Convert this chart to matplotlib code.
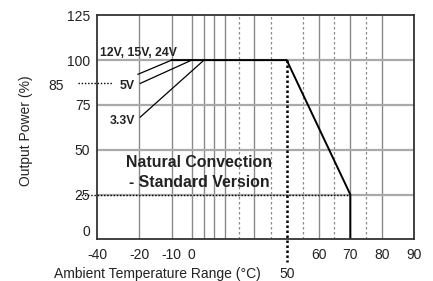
import numpy as np
import matplotlib
matplotlib.use("Agg")
import matplotlib.pyplot as plt
from matplotlib import font_manager as fm

# ---------------- data ----------------
# derating curve (temperature °C, output power %)
curve_temp = [-10, 50, 70, 70]
curve_power = [100, 100, 25, 0]

# voltage groups: label, start temperature of full power, leader start (temp, power)
group_labels = ["12V, 15V, 24V", "5V", "3.3V"]
group_start_temp = [-10, 0, 10]
group_leader_temp = [-20.6, -19.7, -19.7]
group_leader_power = [92.1, 87.0, 68.2]
group_label_temp = [-20.4, -25.6, -28.0]
group_label_power = [103.8, 85.4, 66.2]

x_ticks = [-40, -20, -10, 0, 60, 70, 80, 90]
y_ticks = [0, 25, 50, 75, 100, 125]
solid_grid_temp = [-20, -10, 0, 10, 20, 30, 40, 60, 70, 80]
dotted_grid_temp = [35, 45, 55, 65, 75]
h_grid_power = [25, 50, 75, 100]

derate_knee_temp = 50
derate_end_temp = 70
derate_end_power = 25
ref_power_5v = 87
ref_label_5v = "85"

# irregular x axis of the original drawing (temperature -> drawing position)
T_KNOTS = [-60, -40, -20, -10, 0, 10, 20, 30, 35, 40, 45, 50, 55, 60, 65, 70, 75, 80, 90, 110]
P_KNOTS = [55.3, 97.3, 139.3, 171.7, 191.7, 204, 214.3, 224.7, 239.3, 254.3, 270.7,
           286.7, 302.7, 318.7, 334.3, 350.3, 366.3, 382.3, 414.3, 478.3]


def fwd(t):
    return np.interp(t, T_KNOTS, P_KNOTS)


def inv(p):
    return np.interp(p, P_KNOTS, T_KNOTS)


# ---------------- fonts ----------------
names = {f.name for f in fm.fontManager.ttflist}
REG = ["Liberation Sans", "DejaVu Sans"]
if "Liberation Sans Narrow" in names:
    BOLD = ["Liberation Sans Narrow", "DejaVu Sans"]
    bold_size = 13.5
    small_bold = 10.5
else:
    BOLD = ["Liberation Sans", "DejaVu Sans"]
    bold_size = 11.4
    small_bold = 8.8

TXT = "#222222"

W, H = 433, 281
fig = plt.figure(figsize=(W / 100, H / 100), dpi=100)
ax = fig.add_axes([97.3 / W, 1 - 239.3 / H, (414.3 - 97.3) / W, (239.3 - 15.3) / H])
ax.set_xscale("function", functions=(fwd, inv))
ax.set_xlim(-40, 90)
ax.set_ylim(0, 125)

# grid
for t in solid_grid_temp:
    ax.axvline(t, color="#8a8a8a", lw=1.0, zorder=1)
for t in dotted_grid_temp:
    ax.axvline(t, color="#8a8a8a", lw=0.9, ls=(0, (2, 2)), zorder=1)
for p in h_grid_power:
    ax.axhline(p, color="#aaaaaa", lw=1.6, zorder=1)

# reference dotted lines
ax.plot([-49, derate_end_temp], [derate_end_power, derate_end_power], color="black",
        lw=1.0, ls=(0, (1, 1.3)), clip_on=False, zorder=3)
ax.plot([-49, -33], [ref_power_5v, ref_power_5v], color="black",
        lw=1.0, ls=(0, (1, 1.3)), clip_on=False, zorder=3)
ax.plot([derate_knee_temp, derate_knee_temp], [100, -12.5], color="black",
        lw=1.8, ls=(0, (1, 1)), clip_on=False, zorder=3)

# curve
ax.plot(curve_temp, curve_power, color="black", lw=1.4, zorder=4, solid_joinstyle="miter")

# group labels with leader lines
for lab, st, lt, lp, tt, tp in zip(group_labels, group_start_temp, group_leader_temp,
                                   group_leader_power, group_label_temp, group_label_power):
    ax.plot([lt, st], [lp, 100], color="black", lw=0.9, zorder=4)
    ax.text(tt, tp, lab, ha="center", va="center", fontsize=small_bold,
            fontweight="bold", family=BOLD, color=TXT, zorder=5)

# spines
for s in ax.spines.values():
    s.set_color("#333333")
    s.set_linewidth(1.3)
    s.set_zorder(6)

# ticks
ax.set_xticks(x_ticks)
ax.set_xticklabels([str(v) for v in x_ticks])
ax.set_yticks(y_ticks)
ax.set_yticklabels([str(v) for v in y_ticks])
ax.tick_params(axis="both", length=0, labelsize=10, colors=TXT)
ax.tick_params(axis="x", pad=6)
ax.tick_params(axis="y", pad=5)
for lbl in ax.get_xticklabels() + ax.get_yticklabels():
    lbl.set_family(REG)
ax.get_yticklabels()[0].set_va("bottom")
ax.xaxis.set_minor_locator(matplotlib.ticker.NullLocator())

# the "85" label sits left of its dotted reference line
fig.text(56 / W, 1 - 86 / H, ref_label_5v, ha="center", va="center", fontsize=10,
         family=REG, color=TXT)

# separate 50 label below the dotted line
fig.text(287.3 / W, 1 - 278 / H, str(derate_knee_temp), ha="center", va="baseline",
         fontsize=10, family=REG, color=TXT)

# axis titles
fig.text(157 / W, 1 - 278 / H, "Ambient Temperature Range (°C)", ha="center",
         va="baseline", fontsize=10, family=REG, color=TXT)
fig.text(25.8 / W, 1 - 130.5 / H, "Output Power (%)", ha="center", va="center",
         rotation=90, fontsize=10, family=REG, color=TXT)

# annotation
fig.text(199 / W, 1 - 162.7 / H, "Natural Convection", ha="center", va="center",
         fontsize=bold_size, fontweight="bold", family=BOLD, color=TXT)
fig.text(199 / W, 1 - 182.7 / H, "- Standard Version", ha="center", va="center",
         fontsize=bold_size, fontweight="bold", family=BOLD, color=TXT)

fig.savefig("out.png", dpi=100)
